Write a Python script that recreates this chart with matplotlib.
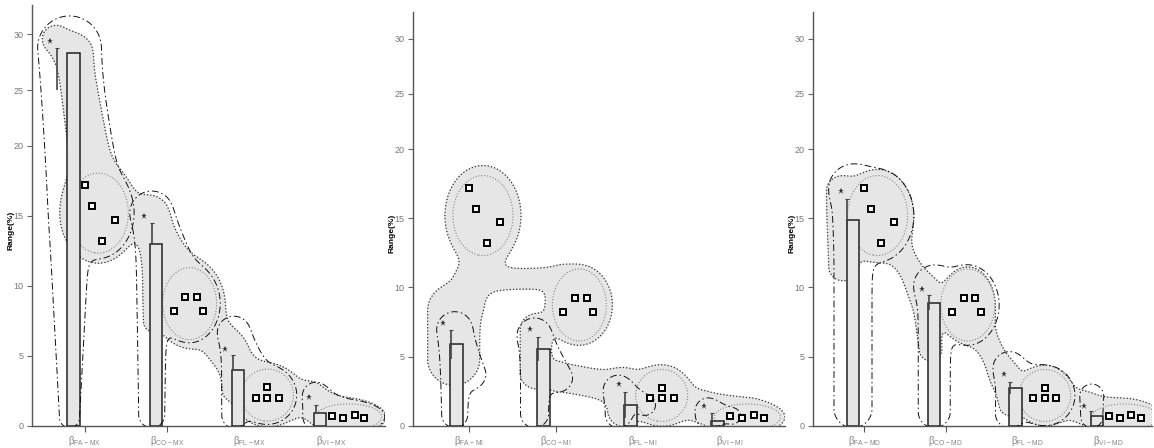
import numpy as np
import matplotlib
matplotlib.use('Agg')
import matplotlib.pyplot as plt

plt.rcParams['font.family'] = ['Liberation Sans', 'DejaVu Sans']
plt.rcParams['mathtext.fontset'] = 'custom'
plt.rcParams['mathtext.rm'] = 'Liberation Sans'

cats = ['FA', 'CO', 'FL', 'VI']
panels = ['MX', 'MI', 'MD']

# bar heights (Range %)
bar_mx = [28.3, 13.0, 4.0, 0.93]
bar_mi = [5.88, 5.52, 1.47, 0.36]
bar_md = [14.9, 8.89, 2.7, 0.7]

# error bar limits
err_lo_mx = [25.0, 13.0, 4.0, 0.93]
err_hi_mx = [28.8, 14.5, 5.06, 1.48]
err_lo_mi = [4.84, 4.65, 0.53, 0.0]
err_hi_mi = [6.92, 6.39, 2.41, 0.89]
err_lo_md = [13.4, 8.36, 2.27, 0.32]
err_hi_md = [16.4, 9.42, 3.13, 1.08]

# star markers
star_mx = [29.4, 15.0, 5.5, 2.07]
star_mi = [7.45, 6.96, 2.99, 1.42]
star_md = [17.0, 9.9, 3.73, 1.42]

# reference points, same in every panel
pts_fa = [17.2, 15.7, 13.2, 14.7]
pts_co = [8.23, 9.23, 9.23, 8.23]
pts_fl = [2.0, 2.75, 2.0, 2.0]
pts_vi = [0.72, 0.53, 0.74, 0.53]

bars = [bar_mx, bar_mi, bar_md]
err_lo = [err_lo_mx, err_lo_mi, err_lo_md]
err_hi = [err_hi_mx, err_hi_mi, err_hi_md]
stars = [star_mx, star_mi, star_md]
pts_y = [pts_fa, pts_co, pts_fl, pts_vi]

# ---- layout -------------------------------------------------------------
FW, FH = 1154, 448
rects = [(32 / FW, 22.3 / FH, 353 / FW, 420.7 / FH),
         (413 / FW, 22.3 / FH, 372 / FW, 413.7 / FH),
         (812.7 / FW, 22.3 / FH, 339.3 / FW, 413.7 / FH)]
xlims = [(-0.505, 3.79), (-0.503, 3.78), (-0.496, 3.68)]
ytops = [32.6, 32.4, 32.4]
pts_dx = [[0.14, 0.22, 0.35, 0.50], [0.22, 0.36, 0.50, 0.57],
          [0.22, 0.36, 0.36, 0.50], [0.15, 0.28, 0.42, 0.54]]
star_dx = [[-0.29, -0.14, -0.16, -0.14], [-0.155, -0.153, -0.135, -0.152],
           [-0.15, -0.147, -0.147, -0.154]]
err_dx = [[-0.2, -0.05, -0.065, -0.055], [-0.065] * 4, [-0.07] * 4]
bar_w = 0.15
tick_dx = 0.14
grp_a = [30, 27, 26, 33]
grp_b = [40, 36, 26, 13]
loops = [
    [(-4, 10, -7, 30, 'g', 26, 5), (-4, 13, 3, 16, 'g', 20, 3),
     (-4, 12, 16, 12, 'g', 14, 3), (-4, 10, 1, 10, 'g', 10, 3)],
    [(-2, 13, -7, 15, 'b', 14, 0), (-9, 14, -6, 14, 'b', 14, 0),
     (-12, 13, -6, 13, 'b', 10, 0), (-9, 11, -5, 11, 'b', 8, 0)],
    [(0, 19, 2, 19, 'g', 22, 6), (0, 16, 3, 16, 'g', 18, 4),
     (-6, 14, 6, 13, 'g', 13, 4), (-5, 11, 10, 12, '', 0, 0)],
]


def fwd(y):
    y = np.asarray(y, dtype=float)
    return np.where(y <= 20, y, 20 + (y - 20) * 0.8)


def inv(t):
    t = np.asarray(t, dtype=float)
    return np.where(t <= 20, t, 20 + (t - 20) / 0.8)


def capsule(X, Y, p, q, r0, r1=None):
    if r1 is None:
        r1 = r0
    dx, dy = q[0] - p[0], q[1] - p[1]
    L2 = dx * dx + dy * dy + 1e-9
    t = np.clip(((X - p[0]) * dx + (Y - p[1]) * dy) / L2, 0, 1)
    d = np.hypot(X - p[0] - t * dx, Y - p[1] - t * dy)
    return d - (r0 + (r1 - r0) * t)


def ellipse(X, Y, c, a, b):
    k = np.hypot((X - c[0]) / a, (Y - c[1]) / b)
    return (k - 1) * min(a, b)


def smin(fields, k=5.0):
    F = np.stack(fields)
    m = F.min(axis=0)
    return m - k * np.log(np.exp(-(F - m) / k).sum(axis=0))


fig = plt.figure(figsize=(FW / 100, FH / 100), dpi=100)

for k, pan in enumerate(panels):
    ax = fig.add_axes(rects[k])
    ax.set_yscale('function', functions=(fwd, inv))
    x0, x1 = xlims[k]
    ax.set_xlim(x0, x1)
    ax.set_ylim(0, ytops[k])
    W = rects[k][2] * FW
    H = rects[k][3] * FH
    sx = W / (x1 - x0)
    sy = H / float(fwd(ytops[k]))

    # nodes in pixel space
    B = [np.array([i * sx, float(fwd(bars[k][i])) * sy]) for i in range(4)]
    S = [np.array([(i + star_dx[k][i]) * sx, float(fwd(stars[k][i])) * sy])
         for i in range(4)]
    G = [np.array([np.mean(i + np.array(pts_dx[i])) * sx,
                   np.mean(fwd(pts_y[i])) * sy]) for i in range(4)]

    xd = np.linspace(x0, x1, 800)
    yd = inv(np.linspace(-1.5, float(fwd(ytops[k])), 700))
    XD, YD = np.meshgrid(xd, yd)
    X = XD * sx
    Y = fwd(YD) * sy

    def c(p, q, r0, r1=None):
        return capsule(X, Y, p, q, r0, r1)

    def e(cn, a, b):
        return ellipse(X, Y, cn, a, b)

    if k == 0:
        gray = [c(S[0] + (6, 2), B[0], 13), c(B[0], G[0], 17, 22),
                e(G[0], 38, 50), c(G[0], S[1] + (4, 0), 16),
                c(S[1] + (7, 2), (S[1][0] + 8, 7.4 * sy), 8),
                c(S[1] + (6, 0), G[1], 14, 24), e(G[1], 34, 44),
                c(G[1], S[2] + (4, 0), 14),
                c(S[2] + (5, 2), (S[2][0] + 6, 2.5 * sy), 7),
                c(S[2], G[2], 14), e(G[2], 33, 31), c(G[2], S[3], 11),
                c(S[3] + (4, 0), G[3], 10), e(G[3], 37, 17)]
    elif k == 1:
        gray = [e(G[0], 38, 50),
                c((B[0][0] - 3, 4.8 * sy), (B[0][0] - 3, 8.3 * sy), 26),
                c(G[0] - (2, 45), (B[0][0] + 10, 9.0 * sy), 14),
                c((B[0][0] + 12, 10.5 * sy), (G[1][0] - 20, 10.7 * sy), 10),
                e(G[1], 33, 40),
                c(S[1] + (5, 0), (S[1][0] + 5, 3.8 * sy), 15),
                c((S[1][0] + 30, 3.5 * sy), G[2], 14), e(G[2], 30, 30),
                c(S[2] + (4, 0), (S[2][0] + 4, 1.0 * sy), 14),
                c(G[2], G[3], 10), e(G[3], 37, 16), c(S[3], G[3], 10)]
    else:
        gray = [e(G[0], 36, 46), c(S[0], (S[0][0] + 2, 11.5 * sy), 14),
                c(G[0], S[1], 11), e(G[1], 27, 38),
                c(S[1], (S[1][0] + 8, 5.5 * sy), 11), c(G[1], S[2], 11),
                e(G[2], 28, 30), c(S[2], (S[2][0] + 6, 1.5 * sy), 10),
                c(G[2], S[3], 9), e(G[3], 37, 17), c(S[3], G[3], 10)]

    F = smin(gray, 6.0)
    ax.contourf(XD, YD, F, levels=[F.min() - 1, 0], colors=['#e6e6e6'],
                zorder=1)
    cs = ax.contour(XD, YD, F, levels=[0], colors='#333', linewidths=0.9,
                    zorder=2)
    cs.set_linestyle((0, (1, 1.6)))

    # dotted ellipse round each group of reference points
    for i in range(4):
        cs = ax.contour(XD, YD, e(G[i], grp_a[i], grp_b[i]), levels=[0],
                        colors='#888', linewidths=0.8, zorder=2)
        cs.set_linestyle((0, (1, 1.6)))

    # dash-dot loops round each bar
    for i in range(4):
        cdx, r0, ty, r1, mode, rg, gm = loops[k][i]
        bot = (B[i][0] + cdx, r0 - 2)
        top = (B[i][0] + cdx, S[i][1] + ty)
        parts = [c(bot, top, r0, r1)]
        if mode == 'g':
            parts += [c(top, G[i], rg), e(G[i], grp_a[i] + gm, grp_b[i] + gm)]
        elif mode == 'b':
            parts.append(c(top, (B[i][0] + 15, 0.5 * S[i][1]), rg))
        cs = ax.contour(XD, YD, smin(parts, 5.0), levels=[0], colors='#111',
                        linewidths=0.7, zorder=4)
        cs.set_linestyle((0, (7, 3, 1.5, 3)))

    xs = np.arange(4)
    ax.bar(xs, bars[k], width=bar_w, color='#e6e6e6', edgecolor='#222',
           linewidth=1.1, zorder=3)
    ex = xs + np.array(err_dx[k])
    ax.vlines(ex, err_lo[k], err_hi[k], color='#444', linewidth=1.2, zorder=5)
    ax.plot(ex, err_hi[k], ls='none', marker='_', ms=3, mew=0.8,
            color='#444', zorder=5)
    ax.plot(xs + np.array(star_dx[k]), stars[k], ls='none', marker='*',
            ms=4.5, color='#333', mew=0, zorder=6)
    for i in range(4):
        ax.plot(i + np.array(pts_dx[i]), pts_y[i], ls='none', marker='s',
                ms=4, mfc='white', mec='black', mew=1.4, zorder=6)

    ax.set_xticks(xs + tick_dx)
    ax.set_xticklabels([r'β$_{\mathrm{%s-%s}}$' % (cn, pan) for cn in cats])
    ax.tick_params(axis='x', length=4, width=0.8, color='#555', labelsize=7,
                   labelcolor='#888', pad=2)
    for t in ax.xaxis.get_major_ticks()[2:]:
        t.tick1line.set_visible(False)
    ax.set_yticks(range(0, 31, 5))
    ax.tick_params(axis='y', length=3.5, width=0.8, color='#666',
                   labelsize=6.5, labelcolor='#777', pad=2.5)
    ax.minorticks_off()
    for sp in ['top', 'right']:
        ax.spines[sp].set_visible(False)
    for sp in ['left', 'bottom']:
        ax.spines[sp].set_color('#555')
        ax.spines[sp].set_linewidth(1.0)
    ax.text(-21 / W, 0.465, 'Range(%)', transform=ax.transAxes, rotation=90,
            ha='center', va='center', fontsize=6, fontweight='bold')

fig.savefig('out.png', dpi=100)
